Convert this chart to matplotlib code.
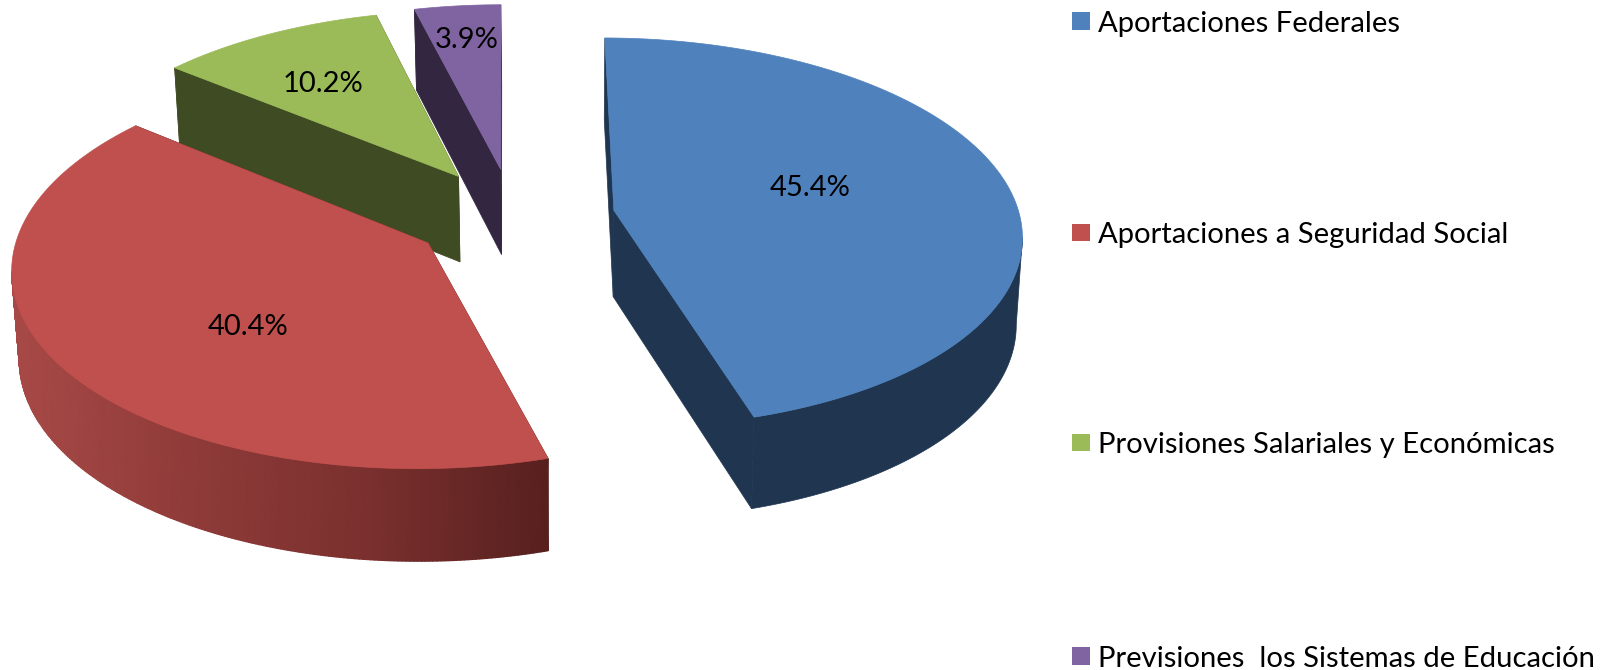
# %% Imports
import matplotlib
matplotlib.use('Agg')
import matplotlib.pyplot as plt
import numpy as np
from matplotlib.colors import LinearSegmentedColormap
from matplotlib.patches import Polygon, Rectangle

# %% Data
categories = ['Aportaciones Federales', 'Aportaciones a Seguridad Social',
              'Provisiones Salariales y Económicas',
              'Previsiones  los Sistemas de Educación']
shares = [45.4, 40.4, 10.2, 3.9]
share_labels = ['45.4%', '40.4%', '10.2%', '3.9%']

# %% Style and layout
W, H = 1609, 670
SCALE = 1.026            # layout below was measured on a slightly smaller view
top_colors = ['#4f81bd', '#c0504d', '#9bbb59', '#8064a2']
side_colors = ['#1f3550', '#4a1c1b', '#3f4b22', '#332640']
START_ANGLE = 89.8
RX, RY = 393, 186
PERSP = 0.00061          # perspective strength on the ground plane
VX, VY = 500, 200        # screen point where the perspective scale is 1
DEPTH = 84               # pie thickness
BOTTOM_X, BOTTOM_SCALE = 550, 0.9865
explode = [(98, -5), (-81, -36), (-54, 28.5), (-12.3, 35.8)]   # world offsets
label_pos = [(790, 183), (242, 319), (315, 82), (455, 39)]
legend_y = [23, 229, 434, 642]
red_rim = LinearSegmentedColormap.from_list(
    'red_rim', ['#a84a47', '#8f3b39', '#7a302e', '#57201f'])


def project(X, Y):
    k = 1 / (1 + PERSP * Y)
    return VX + X * k, VY - Y * k, k


def drop(sx, sy, k):
    """Screen position of the lower face under a top-face point."""
    return BOTTOM_X + (sx - BOTTOM_X) * BOTTOM_SCALE, sy + DEPTH * np.sqrt(k)


def arc_world(off, a0, a1, n=300):
    ang = np.radians(np.linspace(a0, a1, n))
    return off[0] + RX * np.cos(ang), off[1] + RY * np.sin(ang)


plt.rcParams['font.family'] = ['Lato', 'DejaVu Sans']
fig = plt.figure(figsize=(W / 100, H / 100), dpi=100)
ax = fig.add_axes([0, 0, 1, 1])
x_max, y_max = W / SCALE, H / SCALE

# %% Slices, back to front
spans = np.array(shares) / 100 * 360
ends = START_ANGLE - np.cumsum(spans)
starts = ends + spans

for i in [3, 2, 1, 0]:
    off = explode[i]
    X, Y = arc_world(off, starts[i], ends[i])
    sx, sy, k = project(X, Y)
    bx, by = drop(sx, sy, k)
    cx, cy, ck = project(*off)
    cbx, cby = drop(cx, cy, ck)

    # cut faces
    for j in [0, -1]:
        ax.add_patch(Polygon([(cx, cy), (sx[j], sy[j]), (bx[j], by[j]), (cbx, cby)],
                             facecolor=side_colors[i], edgecolor=side_colors[i], lw=0.5))
    # outer rim up to the silhouette point; arcs run clockwise, so blue keeps its
    # end and the others their start. The red one carries a left to right shading
    seen = slice(np.argmax(sx), None) if i == 0 else slice(0, np.argmin(sx) + 1)
    if i == 1:
        mesh_x = np.vstack([sx[seen], bx[seen]])
        mesh_y = np.vstack([sy[seen], by[seen]])
        t = (mesh_x - mesh_x.min()) / (mesh_x.max() - mesh_x.min())
        ax.pcolormesh(mesh_x, mesh_y, t, shading='gouraud', cmap=red_rim, zorder=1)
    else:
        rim_xy = np.column_stack([np.r_[sx[seen], bx[seen][::-1]], np.r_[sy[seen], by[seen][::-1]]])
        ax.add_patch(Polygon(rim_xy, facecolor=side_colors[i], edgecolor=side_colors[i],
                             lw=0.5, zorder=1))
    # top face
    ax.add_patch(Polygon(np.column_stack([np.r_[cx, sx], np.r_[cy, sy]]),
                         facecolor=top_colors[i], edgecolor=top_colors[i], lw=0.5, zorder=1))

for (x, y), lab in zip(label_pos, share_labels):
    ax.text(x, y, lab, ha='center', va='center', fontsize=21, color='black', zorder=3)

# %% Legend
for y, name, col in zip(legend_y, categories, top_colors):
    ax.add_patch(Rectangle((1045, y - 11), 17, 17, facecolor=col, edgecolor='none'))
    ax.text(1070, y, name, ha='left', va='center', fontsize=21.1, color='black')

ax.set_xlim(0, x_max)
ax.set_ylim(y_max, 0)
ax.axis('off')
fig.savefig('out.png', dpi=100, facecolor='white')
